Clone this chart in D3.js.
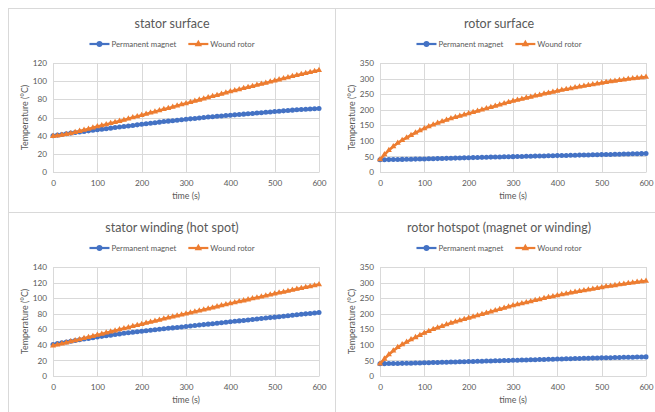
<!DOCTYPE html>
<html>
<head>
<meta charset="utf-8">
<script src="https://cdn.jsdelivr.net/npm/d3@7"></script>
<style>
body { margin: 0; background: #fff; }
svg text { font-family: Lato, "Liberation Sans", sans-serif; fill: #595959; }
</style>
</head>
<body>
<svg id="mySVG" width="655" height="412"></svg>
<script>
// time in seconds (x axis)
var time = [0,10,20,30,40,50,60,70,80,90,100,110,120,130,140,150,160,170,180,190,200,
	210,220,230,240,250,260,270,280,290,300,310,320,330,340,350,360,370,380,390,400,
	410,420,430,440,450,460,470,480,490,500,510,520,530,540,550,560,570,580,590,600];

var seriesNames = ["Permanent magnet", "Wound rotor"];
var titles = ["stator surface", "rotor surface", "stator winding (hot spot)", "rotor hotspot (magnet or winding)"];
var xTicks = [0, 100, 200, 300, 400, 500, 600];
var yTicksList = [
	[0, 20, 40, 60, 80, 100, 120],
	[0, 50, 100, 150, 200, 250, 300, 350],
	[0, 20, 40, 60, 80, 100, 120, 140],
	[0, 50, 100, 150, 200, 250, 300, 350]
];

// stator surface
var statorSurfacePM = [40.0,40.6,41.3,42.0,42.8,43.5,44.1,44.7,45.3,45.9,46.5,47.1,47.7,48.3,48.9,49.5,50.1,50.7,51.3,51.9,52.5,
	53.1,53.7,54.3,54.9,55.5,56.0,56.5,57.0,57.5,58.0,58.5,59.0,59.5,60.0,60.5,60.9,61.3,61.7,62.1,62.5,
	62.9,63.3,63.7,64.1,64.5,64.9,65.3,65.7,66.1,66.5,66.9,67.3,67.7,68.1,68.5,68.8,69.1,69.4,69.7,70.0];
var statorSurfaceWR = [39.5,40.0,40.7,41.5,42.5,43.8,45.0,46.2,47.4,48.7,50.0,51.2,52.4,53.6,54.8,56.0,57.3,58.6,59.9,61.2,62.5,
	63.8,65.1,66.4,67.7,69.0,70.3,71.6,72.9,74.2,75.5,76.8,78.1,79.4,80.7,82.0,83.3,84.6,85.9,87.2,88.5,
	89.7,90.9,92.1,93.3,94.5,95.7,96.9,98.1,99.3,100.5,101.7,102.9,104.1,105.3,106.5,107.6,108.7,109.8,110.9,112.0];

// rotor surface
var rotorSurfacePM = [39.5,39.6,39.8,40.0,40.2,40.5,40.8,41.1,41.4,41.7,42.0,42.3,42.6,43.0,43.4,43.8,44.2,44.6,45.0,45.4,45.8,
	46.2,46.6,47.0,47.4,47.8,48.1,48.4,48.7,49.0,49.3,49.6,50.0,50.3,50.7,51.0,51.3,51.6,52.0,52.3,52.6,
	52.9,53.2,53.5,53.9,54.2,54.5,54.8,55.2,55.5,55.8,56.2,56.5,56.9,57.2,57.6,57.9,58.3,58.6,59.0,59.3];
var rotorSurfaceWR = [40,56,70,82,93,102,110,118,126,133,140,146,152,157,162,167,172,176,180,184,188,
	192,196,200,204,208,212,216,220,224,228,231,234.5,238,241,244.5,247.5,251,254,257,260,
	263,265.5,268,271,273.5,276,278.5,281,283.5,286,288.5,290.5,292.5,294.5,296.5,298.5,300,302,303.5,305];

// stator winding (hot spot)
var statorWindingPM = [40.5,41.6,42.6,43.6,44.6,45.6,46.5,47.4,48.3,49.2,50.1,50.9,51.7,52.5,53.3,54.1,54.8,55.5,56.2,56.9,57.6,
	58.2,58.8,59.4,60.0,60.6,61.2,61.8,62.4,63.0,63.6,64.2,64.8,65.4,66.0,66.6,67.2,67.8,68.4,69.0,69.6,
	70.2,70.8,71.4,72.0,72.6,73.2,73.8,74.4,75.0,75.6,76.2,76.8,77.4,78.0,78.6,79.2,79.8,80.4,81.0,81.6];
var statorWindingWR = [39.0,40.2,41.5,42.8,44.2,45.6,47.0,48.4,49.8,51.2,52.6,54.0,55.4,56.8,58.2,59.6,61.0,62.4,63.8,65.2,66.6,
	68.0,69.4,70.7,72.0,73.4,74.7,76.0,77.4,78.7,80.0,81.3,82.6,83.9,85.2,86.5,87.8,89.1,90.4,91.7,93.0,
	94.3,95.6,96.8,98.1,99.4,100.6,101.9,103.1,104.4,105.6,106.8,108.0,109.2,110.4,111.6,112.8,113.9,115.1,116.2,117.4];

// rotor hotspot
var rotorHotspotPM = [39.5,39.7,39.9,40.1,40.3,40.6,40.9,41.2,41.5,41.9,42.3,42.7,43.1,43.5,43.9,44.3,44.7,45.1,45.5,45.9,46.3,
	46.7,47.1,47.5,47.9,48.3,48.7,49.1,49.5,49.9,50.3,50.7,51.1,51.5,51.9,52.3,52.7,53.1,53.5,53.9,54.3,
	54.7,55.1,55.5,55.9,56.3,56.7,57.0,57.4,57.8,58.2,58.5,58.9,59.2,59.6,59.9,60.2,60.5,60.8,61.1,61.4];
var rotorHotspotWR = [39,55,69,81,92,101,109,117,124,131,138,144,150,155,160,165,170,174,178,182,186,
	190,194,198,202,206,210,214,218,222,226,229.5,233,236,239.5,243,246,249.5,252.5,255.5,258.5,
	261.5,264,267,269.5,272,274.5,277,279.5,282,284.5,287,289,291,293.5,295.5,297.5,299.5,301.5,303.5,305];

var pmData = [statorSurfacePM, rotorSurfacePM, statorWindingPM, rotorHotspotPM];
var wrData = [statorSurfaceWR, rotorSurfaceWR, statorWindingWR, rotorHotspotWR];

var colors = ["#4472C4", "#ED7D31"];
var gridColor = "#d9d9d9";

var svg = d3.select('#mySVG');

// chart frames
svg.append('line').attr('x1', 8).attr('x2', 655).attr('y1', 8.5).attr('y2', 8.5).attr('stroke', gridColor);
svg.append('line').attr('x1', 8).attr('x2', 655).attr('y1', 212.5).attr('y2', 212.5).attr('stroke', gridColor);
svg.append('line').attr('x1', 8.5).attr('x2', 8.5).attr('y1', 8).attr('y2', 412).attr('stroke', gridColor);
svg.append('line').attr('x1', 335.5).attr('x2', 335.5).attr('y1', 8).attr('y2', 412).attr('stroke', gridColor);

function drawChart(i) {
	var ox = i % 2 === 0 ? 8 : 335;
	var oy = i < 2 ? 8 : 212;
	var chartW = 328;
	var left = 45, right = 311, top = 55, bottom = 164;
	var yTicks = yTicksList[i];

	var g = svg.append('g').attr('transform', 'translate(' + ox + ',' + oy + ')');

	var x = d3.scaleLinear().domain([0, 600]).range([left, right]);
	var y = d3.scaleLinear().domain([0, d3.max(yTicks)]).range([bottom, top]);

	// gridlines
	g.selectAll('.hgrid').data(yTicks).enter().append('line')
		.attr('x1', left).attr('x2', right)
		.attr('y1', function(d) { return Math.round(y(d)) + 0.5; })
		.attr('y2', function(d) { return Math.round(y(d)) + 0.5; })
		.attr('stroke', gridColor);
	g.selectAll('.vgrid').data(xTicks).enter().append('line')
		.attr('y1', top).attr('y2', bottom)
		.attr('x1', function(d) { return Math.round(x(d)) + 0.5; })
		.attr('x2', function(d) { return Math.round(x(d)) + 0.5; })
		.attr('stroke', gridColor);

	// axes (labels only, Excel style)
	var xAxis = g.append('g').attr('transform', 'translate(0,' + bottom + ')')
		.call(d3.axisBottom(x).tickValues(xTicks).tickSize(0).tickPadding(8));
	var yAxis = g.append('g').attr('transform', 'translate(' + left + ',0)')
		.call(d3.axisLeft(y).tickValues(yTicks).tickSize(0).tickPadding(6));
	xAxis.select('.domain').attr('stroke', gridColor);
	yAxis.select('.domain').remove();
	g.selectAll('.tick text').attr('font-size', 8.2).attr('font-family', 'Lato, "Liberation Sans", sans-serif').attr('fill', '#6b6b6b');

	// titles
	g.append('text').attr('x', chartW / 2).attr('y', 20).attr('text-anchor', 'middle')
		.attr('font-size', 12.5).text(titles[i]);
	g.append('text').attr('x', (left + right) / 2).attr('y', 191).attr('text-anchor', 'middle')
		.attr('font-size', 8.8).text('time (s)');
	g.append('text').attr('transform', 'translate(20,' + ((top + bottom) / 2) + ') rotate(-90)')
		.attr('text-anchor', 'middle').attr('font-size', 8.8).text('Temperature (°C)');

	// legend
	var leg = g.append('g');
	var lx = 0;
	[0, 1].forEach(function(k) {
		var item = leg.append('g').attr('transform', 'translate(' + lx + ',0)');
		item.append('line').attr('x1', 0).attr('x2', 20).attr('y1', 0).attr('y2', 0)
			.attr('stroke', colors[k]).attr('stroke-width', 2.2);
		item.append('path').attr('transform', 'translate(10,0)')
			.attr('d', d3.symbol().type(k === 0 ? d3.symbolCircle : d3.symbolTriangle).size(k === 0 ? 26 : 24)())
			.attr('fill', colors[k]);
		var t = item.append('text').attr('x', 22).attr('y', 2.8).attr('font-size', 7.8).text(seriesNames[k]);
		lx += 22 + t.node().getComputedTextLength() + 12;
	});
	var legW = lx - 12;
	leg.attr('transform', 'translate(' + (chartW / 2 - legW / 2) + ',36)');

	// series
	var line = d3.line().x(function(d, j) { return x(time[j]); }).y(function(d) { return y(d); });
	var sets = [pmData[i], wrData[i]];
	sets.forEach(function(vals, k) {
		g.append('path').datum(vals).attr('d', line)
			.attr('fill', 'none').attr('stroke', colors[k]).attr('stroke-width', 2.6);
		g.selectAll('.m' + k).data(vals).enter().append('path')
			.attr('class', 'm' + k)
			.attr('transform', function(d, j) { return 'translate(' + x(time[j]) + ',' + y(d) + ')'; })
			.attr('d', d3.symbol().type(k === 0 ? d3.symbolCircle : d3.symbolTriangle).size(k === 0 ? 20 : 16)())
			.attr('fill', colors[k]);
	});
}

for (var i = 0; i < 4; i++) {
	drawChart(i);
}
</script>
</body>
</html>
